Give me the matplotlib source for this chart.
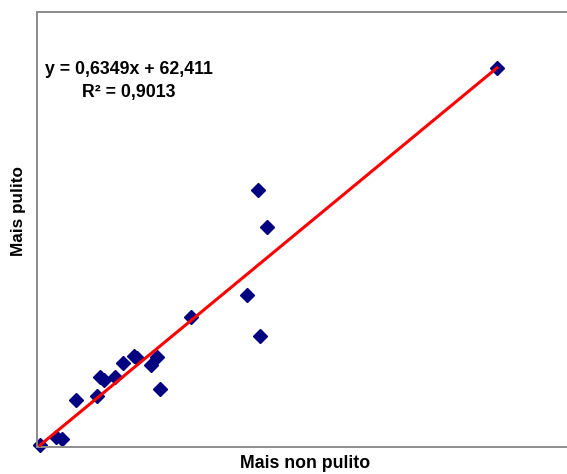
import matplotlib

matplotlib.use("Agg")
import matplotlib.pyplot as plt

plt.rcParams["font.family"] = ["Liberation Sans", "DejaVu Sans"]

W, H = 567, 474

# scatter values
non_pulito = [100, 116, 122, 136, 157, 160, 164, 175, 183, 194,
              197, 211, 217, 220, 251, 307, 320, 318, 327, 557]
pulito = [126, 132, 131, 161, 164, 178, 176, 178, 189, 194.5,
          193, 187.5, 193.7, 169, 224.5, 241.4, 209.8, 322, 293.7, 416]

SLOPE, INTERCEPT = 0.6349, 62.411
eq_lines = ["y = 0,6349x + 62,411", "R² = 0,9013"]

fig = plt.figure(figsize=(W / 100, H / 100), dpi=100)
# axes box in pixels: left 37, right 572 (past the edge), top 12, bottom 447
ax = fig.add_axes([37 / W, (H - 447) / H, (572 - 37) / W, (447 - 12) / H])
ax.set_xlim(97, 632)
ax.set_ylim(124.5, 459)

xs = [min(non_pulito), max(non_pulito)]
ax.plot(xs, [SLOPE * x + INTERCEPT for x in xs], color="#ff0000", lw=2.2,
        zorder=3, clip_on=False)
ax.plot(non_pulito, pulito, ls="none", marker="D", ms=7.5, color="#000080",
        mec="#000080", zorder=2, clip_on=False)

ax.set_xticks([]); ax.set_yticks([])
for side in ("left", "bottom", "top", "right"):
    ax.spines[side].set_color("#8c8c8c")
    ax.spines[side].set_linewidth(1.4)

fig.text(128.5 / W, 1 - 70 / H, eq_lines[0], ha="center", va="center",
         fontsize=12.8, fontweight="bold")
fig.text(129 / W, 1 - 92 / H, eq_lines[1], ha="center", va="center",
         fontsize=12.8, fontweight="bold")

fig.text(305 / W, 1 - 464 / H, "Mais non pulito", ha="center", va="center",
         fontsize=12.8, fontweight="bold")
fig.text(19 / W, 1 - 211 / H, "Mais pulito", ha="center", va="center",
         rotation=90, fontsize=12.3, fontweight="bold")

fig.savefig("out.png", dpi=100)
